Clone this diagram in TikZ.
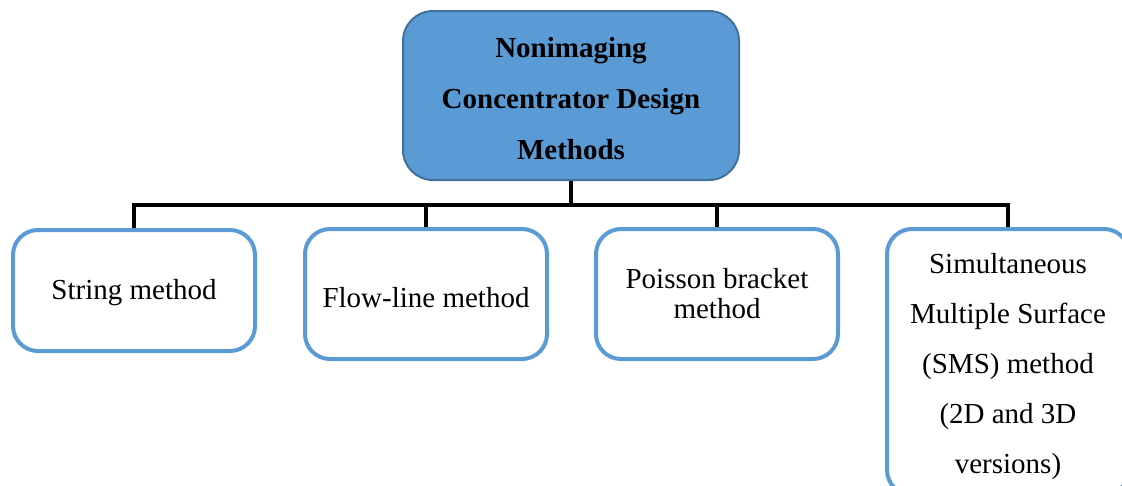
\documentclass[tikz,border=0pt]{standalone}
\usepackage{fontspec}
\setmainfont{Liberation Serif}
\definecolor{headfill}{HTML}{5B9BD5}
\definecolor{headline}{HTML}{41719C}
\definecolor{boxline}{HTML}{5B9BD5}
% invisible strut that lowers a node's text block
\newcommand{\lowerby}[1]{\rule{0pt}{#1}}
\begin{document}
\begin{tikzpicture}[x=1pt,y=-1pt,
  headbox/.style={draw=headline, fill=headfill, line width=2pt, rounded corners=30pt,
    minimum width=336pt, minimum height=169pt, inner sep=0pt, align=center,
    font=\fontsize{29}{51}\selectfont\bfseries},
  methodbox/.style={draw=boxline, fill=white, line width=4pt, rounded corners=25pt,
    minimum width=242pt, inner sep=0pt, align=center,
    font=\fontsize{29}{30}\selectfont},
  link/.style={draw=black, line width=4pt, line join=miter}]
\useasboundingbox (0,0) rectangle (1122,485);
\clip (0,0) rectangle (1122,485);

\node[headbox] (top) at (571,95.5) {\lowerby{26pt}Nonimaging\\Concentrator Design\\Methods};

\node[methodbox, minimum height=121pt] (b1) at (134,290.5) {\lowerby{24pt}String method};
\node[methodbox, minimum height=130pt] (b2) at (426,294) {\lowerby{28pt}Flow-line method};
\node[methodbox, minimum height=130pt] (b3) at (717,294) {Poisson bracket\\method};
\node[methodbox, minimum height=266pt, font=\fontsize{29}{50}\selectfont] (b4) at (1008,362)
  {\lowerby{30pt}Simultaneous\\Multiple Surface\\(SMS) method\\(2D and 3D\\versions)};

\foreach \b in {b1,b2,b3,b4}
  \draw[link] (top.south) -- ++(0,24) -| (\b.north);
\end{tikzpicture}
\end{document}
